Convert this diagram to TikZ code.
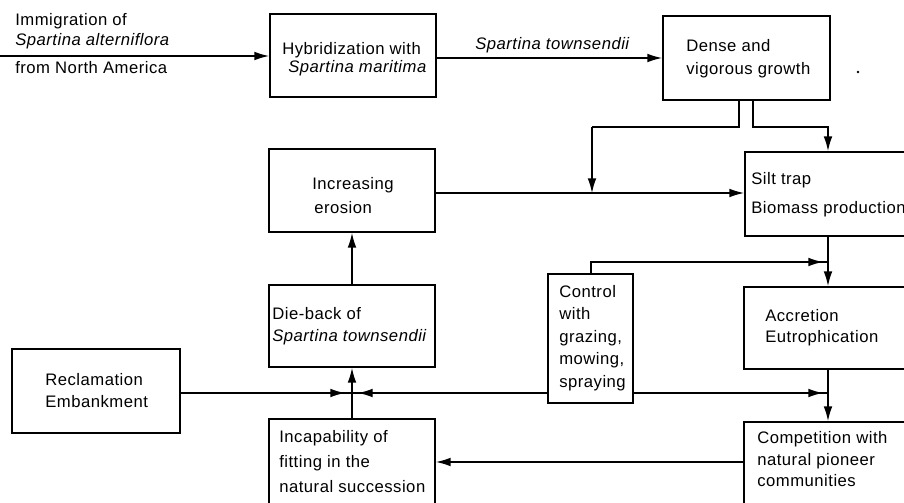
\documentclass[tikz,border=0pt]{standalone}
\usepackage{fontspec}
\setmainfont{Liberation Sans}[LetterSpace=3]
\usetikzlibrary{arrows.meta,fit}
\tikzset{
  box/.style={draw, line width=1.4pt, inner sep=0pt},
  txt/.style={inner sep=0pt, anchor=west, align=left, font=\fontsize{12.5}{16.5}\selectfont},
  conn/.style={line width=1pt},
  arr/.style={line width=1pt, -{Latex[length=11pt,width=6.5pt]}},
}
\begin{document}
\begin{tikzpicture}[x=0.75pt,y=-0.75pt]
\useasboundingbox (0,0) rectangle (904,503);
\clip (0,0) rectangle (904,503);
% boxes
\node[box, fit={(270,14)(436,97)}] (hyb) {};
\node[box, fit={(663,16)(830,100)}] (dense) {};
\node[box, fit={(269,149)(435,232)}] (eros) {};
\node[box, fit={(745,152)(950,236)}] (silt) {};
\node[box, fit={(269,285)(435,367)}] (die) {};
\node[box, fit={(12,349)(180,433)}] (recl) {};
\node[box, fit={(548,274)(633,403)}] (ctrl) {};
\node[box, fit={(744,287)(950,369)}] (accr) {};
\node[box, fit={(744,422)(950,520)}] (comp) {};
\node[box, fit={(269,419)(435,520)}] (incap) {};
% texts
\node[txt] (immtxt) at (15,31) {Immigration of\\[-1.5pt]\textit{Spartina alterniflora}};
\node[txt] (fromtxt) at (15,68) {from North America};
\node[txt] (hybtxt) at (282,59) {Hybridization with\\[-3pt]\hspace*{4.5pt}\textit{Spartina maritima}};
\node[txt] (townlbl) at (475,45) {\textit{Spartina townsendii}};
\node[txt] (densetxt) at (686,58.5) {Dense and\\[0.75pt]vigorous growth};
\node[txt] (erostxt) at (312,196) {Increasing\\[1.5pt]\hspace*{1.5pt}erosion};
\node[txt] (silttxt) at (751,194.5) {Silt trap\\[5pt]Biomass production};
\node[txt] (dietxt) at (272,326) {Die-back of\\\textit{Spartina townsendii}};
\node[txt] (recltxt) at (45,391) {Reclamation\\Embankment};
\node[txt] (ctrltxt) at (559,338) {Control\\[0.4pt]with\\[0.4pt]grazing,\\[0.4pt]mowing,\\[0.4pt]spraying};
\node[txt] (accrtxt) at (765,327.5) {Accretion\\[-0.3pt]Eutrophication};
\node[txt] (comptxt) at (757,459.5) {Competition with\\[-0.4pt]natural pioneer\\[-0.4pt]communities};
\node[txt] (incaptxt) at (279,462) {Incapability of\\[2.25pt]fitting in the\\[2.25pt]natural succession};
% coordinates
\coordinate (imm) at (0,56);
\coordinate (dl) at (739,127);
\coordinate (dr) at (753,127);
\coordinate (el) at (592,127);
\coordinate (sr) at (828,127);
\coordinate (ej) at (592,193);
\coordinate (ct) at (591,262);
\coordinate (J) at (352,393);
\coordinate (cy) at (0,462);
% connectors
\draw[arr] (imm) -- (imm -| hyb.west);
\draw[arr] (hyb.east |- dense.west) -- (dense.west);
\draw[conn] (dense.south -| dl) -- (dl) -- (el);
\draw[arr] (el) -- (ej);
\draw[arr] (dense.south -| dr) -- (dr) -- (sr) -- (silt.north -| sr);
\draw[arr] (eros.east |- ej) -- (silt.west |- ej);
\draw[arr] (silt.south -| sr) -- (accr.north -| sr);
\draw[arr] (accr.south -| sr) -- (comp.north -| sr);
\draw[conn] (ctrl.north -| ct) -- (ct) -- (ct -| sr);
\draw[arr, shorten >=3.75pt] (ct) -- (ct -| sr);
\draw[conn] (ctrl.east |- J) -- (J -| sr);
\draw[arr, shorten >=3.75pt] (ctrl.east |- J) -- (J -| sr);
\draw[conn] (recl.east |- J) -- (J);
\draw[arr, shorten >=5.25pt] (recl.east |- J) -- (J);
\draw[conn] (ctrl.west |- J) -- (J);
\draw[arr, shorten >=4.5pt] (ctrl.west |- J) -- (J);
\draw[conn] (incap.north -| J) -- (J);
\draw[arr] (J) -- (die.south -| J);
\draw[arr] (die.north -| J) -- (eros.south -| J);
\draw[arr] (comp.west |- cy) -- (incap.east |- cy);
\fill (858,72) circle (1.3);
\end{tikzpicture}
\end{document}
